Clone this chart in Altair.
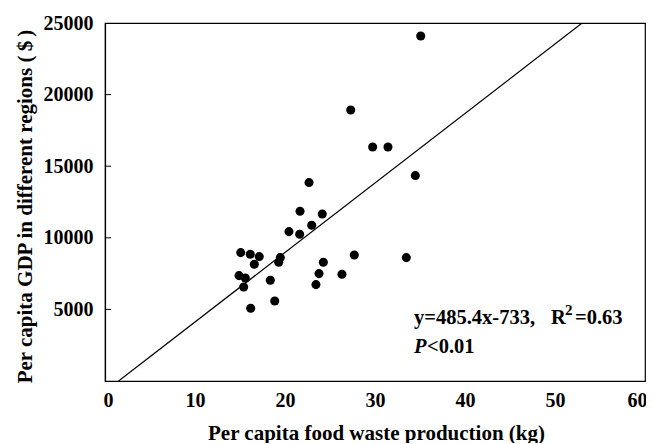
import altair as alt
import pandas as pd

# Per capita food waste production (kg)
waste = [15.08, 16.14, 17.14, 16.59, 19.48, 19.30, 14.89, 15.59, 15.41, 18.37,
         16.19, 18.86, 24.26, 23.78, 23.44, 26.33, 22.67, 21.67, 24.14, 22.97,
         20.44, 21.63, 27.30, 29.74, 31.44, 34.48, 27.70, 33.48, 35.08]
# Per capita GDP ($)
gdp = [8966, 8848, 8687, 8150, 8617, 8289, 7360, 7193, 6564, 7032,
       5077, 5587, 8289, 7500, 6732, 7451, 13855, 11851, 11662, 10873,
       10433, 10244, 18925, 16341, 16341, 14344, 8799, 8617, 24092]

slope = 485.4
intercept = -733
x_ticks = [0, 10, 20, 30, 40, 50, 60]
y_ticks = [5000, 10000, 15000, 20000, 25000]
y_inner_ticks = [5000, 10000, 15000, 20000]

FONT = "Liberation Serif"
W, H = 540, 358

pts = pd.DataFrame({"x": waste, "y": gdp})
y_lo, y_hi = 0, 25000
line_df = pd.DataFrame({
    "x": [(y_lo - intercept) / slope, (y_hi - intercept) / slope],
    "y": [y_lo, y_hi],
})
tick_df = pd.DataFrame({"v": y_inner_ticks})

xs = alt.Scale(domain=[0, 60], nice=False)
ys = alt.Scale(domain=[0, 25000], nice=False)

xaxis = alt.Axis(values=x_ticks, title="Per capita food waste production (kg)",
                 ticks=False, tickSize=0, labelPadding=9, grid=False, format="d",
                 labelFlush=True, labelFlushOffset=2,
                 titleBaseline="alphabetic", titleY=58, titleX=W / 2 + 1)
yaxis = alt.Axis(values=y_ticks,
                 title="Per capita GDP in different regions\u00a0(\u2009$\u2009)",
                 ticks=False, tickSize=0, labelPadding=12, grid=False, format="d",
                 labelFlush=False,
                 titleBaseline="alphabetic", titleAngle=270, titleX=-74, titleY=183)

points = alt.Chart(pts).mark_circle(size=82, color="black", opacity=1).encode(
    x=alt.X("x:Q", scale=xs, axis=xaxis),
    y=alt.Y("y:Q", scale=ys, axis=yaxis),
)

reg = alt.Chart(line_df).mark_line(color="black", strokeWidth=1.2, clip=True).encode(
    x=alt.X("x:Q", scale=xs),
    y=alt.Y("y:Q", scale=ys),
)

ticks = alt.Chart(tick_df).mark_rule(color="black", strokeWidth=1).encode(
    y=alt.Y("v:Q", scale=ys),
    x=alt.value(0),
    x2=alt.value(6),
)

def txt(s, x, y, size=20.5, style="normal", align="left"):
    return alt.Chart(pd.DataFrame({"t": [s]})).mark_text(
        font=FONT, fontSize=size, fontWeight="bold", fontStyle=style,
        color="black", align=align, baseline="alphabetic",
    ).encode(text="t:N", x=alt.value(x), y=alt.value(y))

ann = [
    txt("y=485.4x-733,", 309, 301),
    txt("R", 446, 301),
    txt("2", 460, 292, size=15),
    txt("=0.63", 470, 301),
    txt("P", 309, 330, style="italic"),
    txt("<0.01", 322, 330),
]

chart = alt.layer(points, reg, ticks, *ann).properties(
    width=W, height=H,
    padding={"left": 97, "top": 15, "right": 1, "bottom": 62},
    autosize="none",
).configure_view(
    stroke="black", strokeWidth=1.2,
).configure_axis(
    labelFont=FONT, labelFontSize=20, labelFontWeight="bold", labelColor="black",
    titleFont=FONT, titleFontSize=21, titleFontWeight="bold", titleColor="black",
    domainColor="black", domainWidth=1.2,
)

chart.save("out.html", embed_options={"renderer": "svg", "actions": False})
